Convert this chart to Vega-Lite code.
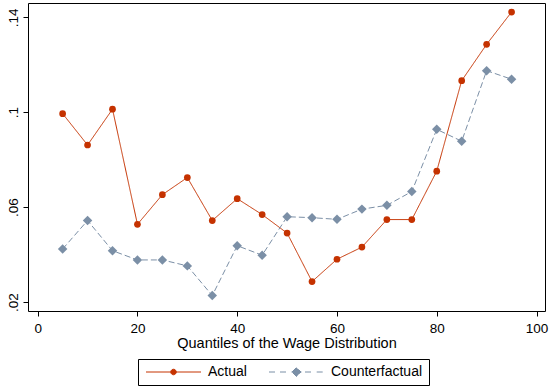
{
  "$schema": "https://vega.github.io/schema/vega-lite/v6.json",
  "width": 517,
  "height": 308,
  "autosize": "none",
  "padding": {"left": 28, "top": 3, "right": 8, "bottom": 80},
  "background": "white",
  "config": {
    "font": "Liberation Sans",
    "view": {"stroke": "black", "strokeWidth": 1},
    "axis": {"grid": false, "domain": false, "tickColor": "black", "tickSize": 5, "labelColor": "black", "titleColor": "black", "labelFont": "Liberation Sans", "titleFont": "Liberation Sans", "labelFontSize": 13.5, "titleFontSize": 14.5, "titleFontWeight": "normal"}
  },
  "data": {"values": [
    {"q": 5, "series": "Actual", "v": 0.0994},
    {"q": 10, "series": "Actual", "v": 0.0862},
    {"q": 15, "series": "Actual", "v": 0.1013},
    {"q": 20, "series": "Actual", "v": 0.0528},
    {"q": 25, "series": "Actual", "v": 0.0653},
    {"q": 30, "series": "Actual", "v": 0.0725},
    {"q": 35, "series": "Actual", "v": 0.0544},
    {"q": 40, "series": "Actual", "v": 0.0636},
    {"q": 45, "series": "Actual", "v": 0.0569},
    {"q": 50, "series": "Actual", "v": 0.0491},
    {"q": 55, "series": "Actual", "v": 0.0287},
    {"q": 60, "series": "Actual", "v": 0.0381},
    {"q": 65, "series": "Actual", "v": 0.0432},
    {"q": 70, "series": "Actual", "v": 0.0548},
    {"q": 75, "series": "Actual", "v": 0.0548},
    {"q": 80, "series": "Actual", "v": 0.0752},
    {"q": 85, "series": "Actual", "v": 0.1133},
    {"q": 90, "series": "Actual", "v": 0.1286},
    {"q": 95, "series": "Actual", "v": 0.1422},
    {"q": 5, "series": "Counterfactual", "v": 0.0424},
    {"q": 10, "series": "Counterfactual", "v": 0.0544},
    {"q": 15, "series": "Counterfactual", "v": 0.0417},
    {"q": 20, "series": "Counterfactual", "v": 0.0378},
    {"q": 25, "series": "Counterfactual", "v": 0.0378},
    {"q": 30, "series": "Counterfactual", "v": 0.0353},
    {"q": 35, "series": "Counterfactual", "v": 0.0228},
    {"q": 40, "series": "Counterfactual", "v": 0.0438},
    {"q": 45, "series": "Counterfactual", "v": 0.0398},
    {"q": 50, "series": "Counterfactual", "v": 0.0560},
    {"q": 55, "series": "Counterfactual", "v": 0.0556},
    {"q": 60, "series": "Counterfactual", "v": 0.0549},
    {"q": 65, "series": "Counterfactual", "v": 0.0592},
    {"q": 70, "series": "Counterfactual", "v": 0.0608},
    {"q": 75, "series": "Counterfactual", "v": 0.0666},
    {"q": 80, "series": "Counterfactual", "v": 0.0928},
    {"q": 85, "series": "Counterfactual", "v": 0.0878},
    {"q": 90, "series": "Counterfactual", "v": 0.1175},
    {"q": 95, "series": "Counterfactual", "v": 0.1139}
  ]},
  "encoding": {
    "x": {"field": "q", "type": "quantitative", "scale": {"domain": [-1.94, 101.7], "nice": false, "zero": false},
      "axis": {"values": [0, 20, 40, 60, 80, 100], "title": "Quantiles of the Wage Distribution", "labelPadding": 5, "titlePadding": 2, "labelFlush": false}},
    "y": {"field": "v", "type": "quantitative", "scale": {"domain": [0.0163, 0.146], "nice": false, "zero": false},
      "axis": {"values": [0.02, 0.06, 0.1, 0.14], "title": null, "labelAngle": 270, "labelAlign": "center", "labelBaseline": "bottom", "labelPadding": 3, "labelExpr": "substring(format(datum.value, '.2~f'), 1)"}},
    "color": {"field": "series", "type": "nominal", "scale": {"domain": ["Actual", "Counterfactual"], "range": ["#c53200", "#7b8fa6"]},
      "legend": {"orient": "none", "legendX": 110, "legendY": 356, "direction": "horizontal", "title": null,
        "strokeColor": "black", "padding": 6, "labelFont": "Liberation Sans", "labelFontSize": 14, "labelColor": "black", "labelOffset": 50, "columnPadding": 20,
        "symbolSize": 100, "symbolStrokeWidth": 1, "symbolOpacity": 1,
        "encoding": {"symbols": {
          "shape": {"value": {"signal": "datum.value === 'Actual' ? 'M-1,0H10M5.05,0A0.55,0.55,0,1,1,3.95,0A0.55,0.55,0,1,1,5.05,0Z' : 'M-1,0H0.54M1.2,0H2.74M3.5,0H5.5M6.2,0H7.74M8.54,0H10M3.6,0L4.5,-0.9L5.4,0L4.5,0.9Z'"}},
          "size": {"value": 100},
          "fill": {"value": {"signal": "datum.value === 'Actual' ? '#c53200' : '#7b8fa6'"}},
          "stroke": {"value": {"signal": "datum.value === 'Actual' ? '#c53200' : '#7b8fa6'"}},
          "strokeDash": {"value": []}
        }}}}
  },
  "layer": [
    {"mark": {"type": "line", "strokeWidth": 1},
     "encoding": {"strokeDash": {"field": "series", "type": "nominal", "scale": {"domain": ["Actual", "Counterfactual"], "range": [[1, 0], [6, 3]]}, "legend": null}}},
    {"transform": [{"filter": "datum.series === 'Actual'"}],
     "mark": {"type": "point", "filled": true, "opacity": 1, "shape": "circle", "size": 45}},
    {"transform": [{"filter": "datum.series === 'Counterfactual'"}],
     "mark": {"type": "point", "filled": true, "opacity": 1, "shape": "diamond", "size": 90}}
  ]
}
